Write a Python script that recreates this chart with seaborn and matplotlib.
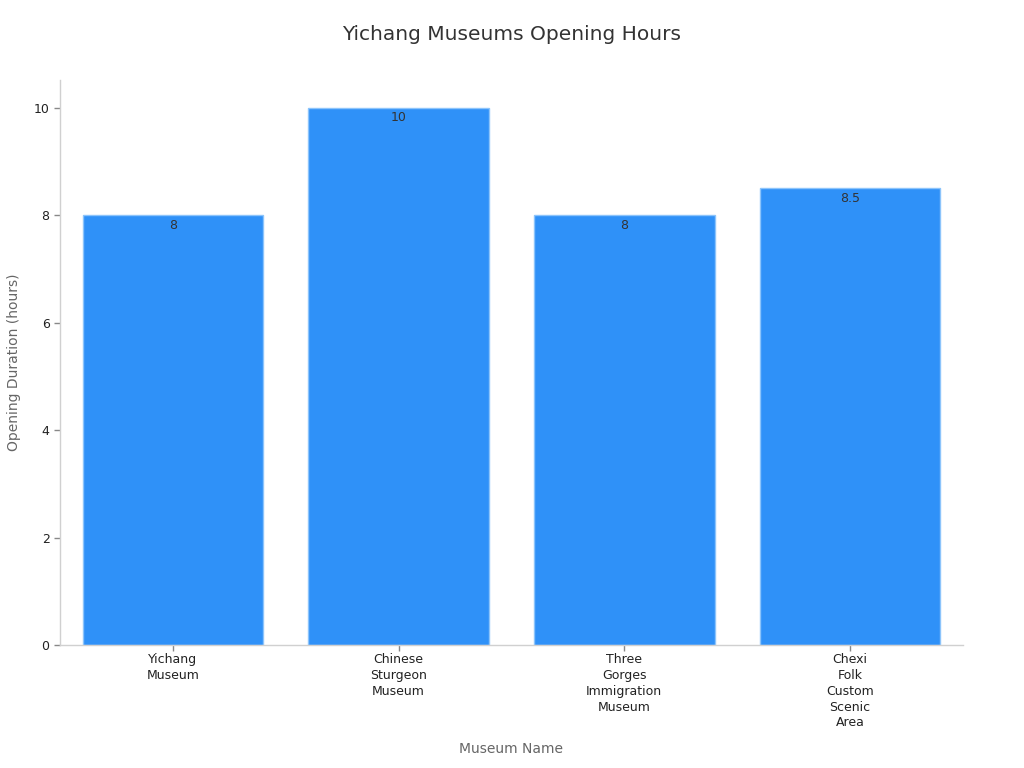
import matplotlib
matplotlib.use("Agg")
import matplotlib.pyplot as plt
import pandas as pd
import seaborn as sns


MUSEUMS = [
    "Yichang\nMuseum",
    "Chinese\nSturgeon\nMuseum",
    "Three\nGorges\nImmigration\nMuseum",
    "Chexi\nFolk\nCustom\nScenic\nArea",
]
HOURS = [8, 10, 8, 8.5]
VALUE_LABELS = ["8", "10", "8", "8.5"]


def main() -> None:
    sns.set_theme(style="white")
    plt.rcParams["font.family"] = ["DejaVu Sans"]

    df = pd.DataFrame({"Museum": MUSEUMS, "Hours": HOURS})

    fig = plt.figure(figsize=(10.24, 7.68), dpi=100)
    ax = fig.add_axes([0.0586, 0.160, 0.8816, 0.736])

    sns.barplot(
        data=df,
        x="Museum",
        y="Hours",
        color="#2f91f8",
        saturation=1,
        width=0.8,
        edgecolor="#8cc4fb",
        linewidth=1,
        ax=ax,
    )

    ax.bar_label(
        ax.containers[0],
        labels=VALUE_LABELS,
        label_type="edge",
        padding=-12,
        fontsize=9,
        color="#333333",
    )

    ax.set_xlim(-0.5, 3.5)
    ax.set_ylim(0, 10.52)
    ax.set_yticks([0, 2, 4, 6, 8, 10])

    for side in ["top", "right"]:
        ax.spines[side].set_visible(False)
    for side in ["left", "bottom"]:
        ax.spines[side].set_color("#d0d0d0")
        ax.spines[side].set_linewidth(1)

    ax.tick_params(axis="both", which="both", length=4, width=1,
                   color="#888888", labelsize=9, labelcolor="#222222",
                   bottom=True, left=True)
    ax.tick_params(axis="x", pad=2)
    for label in ax.get_xticklabels():
        label.set_linespacing(1.27)

    ax.set_xlabel("Museum Name", fontsize=10, color="#666666", labelpad=9)
    ax.set_ylabel("Opening Duration (hours)", fontsize=10, color="#666666",
                  labelpad=9)

    fig.suptitle("Yichang Museums Opening Hours", fontsize=14.5,
                 color="#333333", y=0.968)

    fig.savefig("out.png", dpi=100)


if __name__ == "__main__":
    main()
